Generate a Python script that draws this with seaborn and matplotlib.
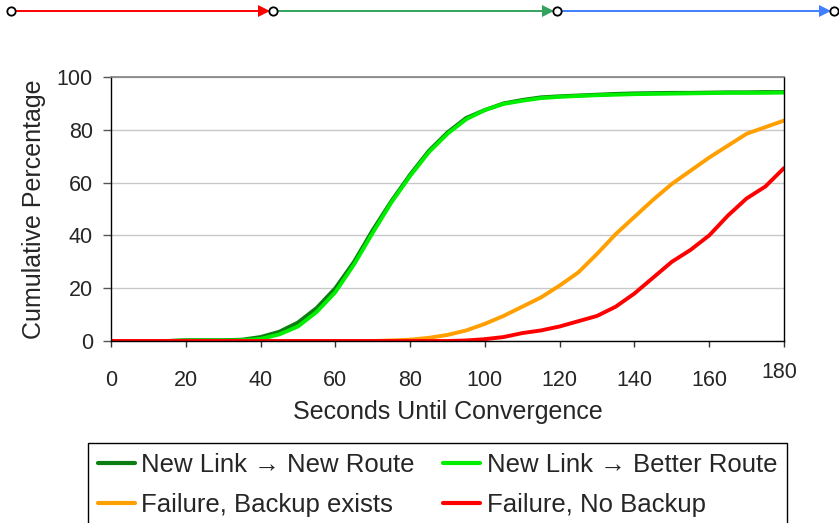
import numpy as np
import pandas as pd
import matplotlib
matplotlib.use("Agg")
import matplotlib.pyplot as plt
import seaborn as sns
from matplotlib.lines import Line2D

# ---- data ----
seconds = [0, 5, 10, 15, 20, 25, 30, 35, 40, 45, 50, 55, 60, 65, 70, 75, 80, 85, 90,
           95, 100, 105, 110, 115, 120, 125, 130, 135, 140, 145, 150, 155, 160, 165,
           170, 175, 180]
new_route = [0, 0, 0, 0, 0.3, 0.3, 0.3, 0.5, 1.5, 3.5, 7, 12.5, 20, 30, 42, 53, 63, 72, 79,
             84.5, 87.5, 90, 91.3, 92.3, 92.7, 93, 93.3, 93.6, 93.8, 93.9, 94, 94, 94.1,
             94.2, 94.2, 94.3, 94.3]
better_route = [0, 0, 0, 0, 0.2, 0.2, 0.2, 0.3, 0.8, 2.5, 5.5, 11, 18.5, 29, 41, 52.5, 62.5,
                71.5, 78.5, 84, 87.5, 89.8, 91, 92, 92.5, 92.8, 93.1, 93.3, 93.5, 93.6, 93.7,
                93.8, 93.9, 94, 94, 94, 94.1]
backup_exists = [0, 0, 0, 0, 0, 0, 0, 0, 0, 0, 0, 0, 0, 0, 0, 0.2, 0.5, 1.2, 2.3, 4, 6.5,
                 9.5, 13, 16.5, 21, 26, 33, 40.5, 47, 53.5, 59.5, 64.5, 69.5, 74, 78.5, 81,
                 83.5]
no_backup = [0, 0, 0, 0, 0, 0, 0, 0, 0, 0, 0, 0, 0, 0, 0, 0, 0, 0, 0, 0.2, 0.7, 1.5, 3, 4,
             5.5, 7.5, 9.5, 13, 18, 24, 30, 34.5, 40, 47.5, 54, 58.5, 65.5]

series_names = ["New Link \u2192 New Route", "New Link \u2192 Better Route",
                "Failure, Backup exists", "Failure, No Backup"]
series_values = [new_route, better_route, backup_exists, no_backup]
colors = ["#0b7d12", "#00ee00", "#ff9f00", "#ff0000"]

x_ticks = [0, 20, 40, 60, 80, 100, 120, 140, 160, 180]
y_ticks = [0, 20, 40, 60, 80, 100]

rows = []
for name, vals in zip(series_names, series_values):
    for s, v in zip(seconds, vals):
        rows.append({"sec": s, "pct": v, "series": name})
df = pd.DataFrame(rows)

# ---- style ----
sns.set_theme(style="white")
plt.rcParams["font.family"] = ["Liberation Sans", "DejaVu Sans"]

W, H = 839, 523
fig = plt.figure(figsize=(W / 100, H / 100), dpi=100)
ax = fig.add_axes([111 / W, 1 - 341 / H, (784 - 111) / W, (341 - 77) / H])

sns.lineplot(data=df, x="sec", y="pct", hue="series", hue_order=series_names,
             palette=dict(zip(series_names, colors)), linewidth=2.8, ax=ax,
             legend=False, estimator=None)

ax.set_xlim(0, 180)
ax.set_ylim(0, 100)
ax.set_xticks(x_ticks)
ax.set_yticks(y_ticks)
ax.set_xticklabels([str(t) if t != 180 else "" for t in x_ticks])
ax.tick_params(axis="x", direction="out", length=4, width=1, color="#333333",
               labelsize=15.5, pad=17, bottom=True)
ax.tick_params(axis="y", direction="out", length=6, width=1, color="#555555",
               labelsize=15.5, pad=7, left=True)
# the "180" label sits a bit higher in the reference
lbl180 = ax.text(180, 0, "180", fontsize=15.5, ha="center", va="center")
lbl180.set_transform(ax.get_xaxis_transform() +
                     matplotlib.transforms.ScaledTranslation(-5 / 100, -31 / 100,
                                                             fig.dpi_scale_trans))

ax.yaxis.grid(True, color="#c8c8c8", linewidth=1)
ax.set_axisbelow(True)
for side in ["left", "bottom", "right"]:
    ax.spines[side].set_color("black")
    ax.spines[side].set_linewidth(1)
ax.spines["top"].set_color("#808080")
ax.spines["top"].set_linewidth(1.2)

ax.set_xlabel("Seconds Until Convergence", fontsize=18, labelpad=6)
ax.set_ylabel("Cumulative Percentage", fontsize=18, labelpad=8)

# ---- legend (row-wise order like the reference) ----
order = [0, 2, 1, 3]
handles = [Line2D([0], [0], color=colors[i], linewidth=3) for i in order]
labels = [series_names[i] for i in order]
leg = fig.legend(handles, labels, loc="upper left",
                 bbox_to_anchor=(88 / W, 1 - 443 / H), ncol=2, fontsize=18.5,
                 frameon=True, fancybox=False, edgecolor="black", framealpha=1,
                 handlelength=1.45, handletextpad=0.25, columnspacing=1.1,
                 labelspacing=0.65, borderpad=0.38, borderaxespad=0)
leg.get_frame().set_linewidth(1)

# ---- top timeline decoration ----
ov = fig.add_axes([0, 0, 1, 1])
ov.set_xlim(0, W)
ov.set_ylim(H, 0)
ov.axis("off")
ov.patch.set_alpha(0)
seg_x = [(11, 273), (273, 557), (557, 834)]
seg_c = ["#ff0000", "#33a35f", "#3f7fff"]
ty = 11
for (x0, x1), c in zip(seg_x, seg_c):
    ov.plot([x0, x1 - 8], [ty, ty], color=c, linewidth=1.4, solid_capstyle="butt")
    ov.plot([x1 - 9], [ty], marker=">", markersize=9, color=c, markeredgewidth=0)
for xc in [11, 273, 557, 834]:
    ov.plot([xc], [ty], marker="o", markersize=6, markerfacecolor="white",
            markeredgecolor="black", markeredgewidth=1.3)

fig.savefig("out.png", dpi=100)
